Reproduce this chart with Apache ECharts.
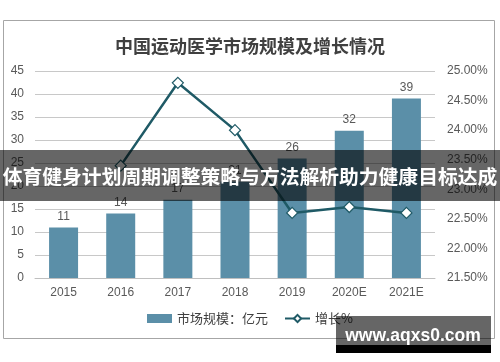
<!DOCTYPE html>
<html><head><meta charset="utf-8">
<script src="https://cdn.jsdelivr.net/npm/echarts@6/dist/echarts.min.js"></script>
<style>html,body{margin:0;padding:0;background:#fff}#c{width:500px;height:362px}</style>
</head><body><div id="c"></div>
<script>
var categories = ['2015','2016','2017','2018','2019','2020E','2021E'];
var marketSize = [11, 14, 17, 21, 26, 32, 39];
var growthPct = [null, 23.4, 24.8, 24.0, 22.6, 22.7, 22.6];
var titleText = '中国运动医学市场规模及增长情况';
var barName = '市场规模：亿元';
var lineName = '增长%';
var bannerText = '体育健身计划周期调整策略与方法解析助力健康目标达成';
var watermarkText = 'www.aqxs0.com';

var FONT = '"Liberation Sans", "Noto Sans CJK SC", sans-serif';
var chart = echarts.init(document.getElementById('c'), null, {renderer: 'canvas'});
chart.setOption({
  animation: false,
  textStyle: {fontFamily: FONT},
  title: {
    text: titleText, left: 'center', top: 32,
    textStyle: {fontSize: 18, fontWeight: 'bold', color: '#404040', fontFamily: '"Noto Sans CJK SC", sans-serif'}
  },
  grid: {left: 35, right: 65, top: 71, bottom: 84},
  legend: {
    bottom: 32, left: 'center', itemGap: 16,
    textStyle: {fontSize: 13, color: '#404040', fontFamily: '"Noto Sans CJK SC", sans-serif'},
    data: [
      {name: barName, icon: 'rect', itemWidth: 24, itemHeight: 7},
      {name: lineName}
    ],
    itemWidth: 25, itemHeight: 9
  },
  xAxis: {
    type: 'category', data: categories,
    axisTick: {show: false},
    axisLine: {lineStyle: {color: '#bfbfbf', width: 1}},
    axisLabel: {color: '#595959', fontSize: 12, margin: 9}
  },
  yAxis: [
    {
      type: 'value', min: 0, max: 45, interval: 5,
      axisLine: {show: false}, axisTick: {show: false},
      axisLabel: {color: '#595959', fontSize: 12, margin: 11},
      splitLine: {lineStyle: {color: '#c8c8c8', width: 1}}
    },
    {
      type: 'value', min: 21.5, max: 25, interval: 0.5,
      axisLine: {show: false}, axisTick: {show: false}, splitLine: {show: false},
      axisLabel: {color: '#595959', fontSize: 12, margin: 12, formatter: function(v){return v.toFixed(2)+'%';}}
    }
  ],
  series: [
    {
      name: barName, type: 'bar', data: marketSize, barWidth: 29,
      itemStyle: {color: '#5b8fa8'},
      label: {show: true, position: 'top', distance: 5, color: '#595959', fontSize: 12}
    },
    {
      name: lineName, type: 'line', yAxisIndex: 1, data: growthPct, z: 5,
      symbol: 'diamond', symbolSize: 11, showSymbol: true,
      lineStyle: {color: '#1f5a66', width: 2.5},
      itemStyle: {color: '#ffffff', borderColor: '#1f5a66', borderWidth: 1.2}
    }
  ],
  graphic: [
    {type: 'rect', z: 100, shape: {x: 3.5, y: 20.5, width: 491, height: 318}, style: {fill: 'none', stroke: '#a6a6a6', lineWidth: 1}},
    {type: 'rect', z: 200, shape: {x: 0, y: 150, width: 500, height: 51}, style: {fill: 'rgba(0,0,0,0.6)'}},
    {type: 'text', z: 201, x: 250, y: 176, style: {text: bannerText, fill: '#ffffff', font: 'bold 19.8px "Noto Sans CJK SC", sans-serif', textAlign: 'center', textVerticalAlign: 'middle'}},
    {type: 'rect', z: 200, shape: {x: 336, y: 316, width: 155, height: 29}, style: {fill: 'rgba(0,0,0,0.6)'}},
    {type: 'rect', z: 200, shape: {x: 336, y: 345, width: 155, height: 8}, style: {fill: '#000000'}},
    {type: 'text', z: 201, x: 413, y: 336, style: {text: watermarkText, fill: '#ffffff', font: 'bold 17.5px "Liberation Sans", sans-serif', textAlign: 'center', textVerticalAlign: 'middle'}}
  ]
});
</script></body></html>
